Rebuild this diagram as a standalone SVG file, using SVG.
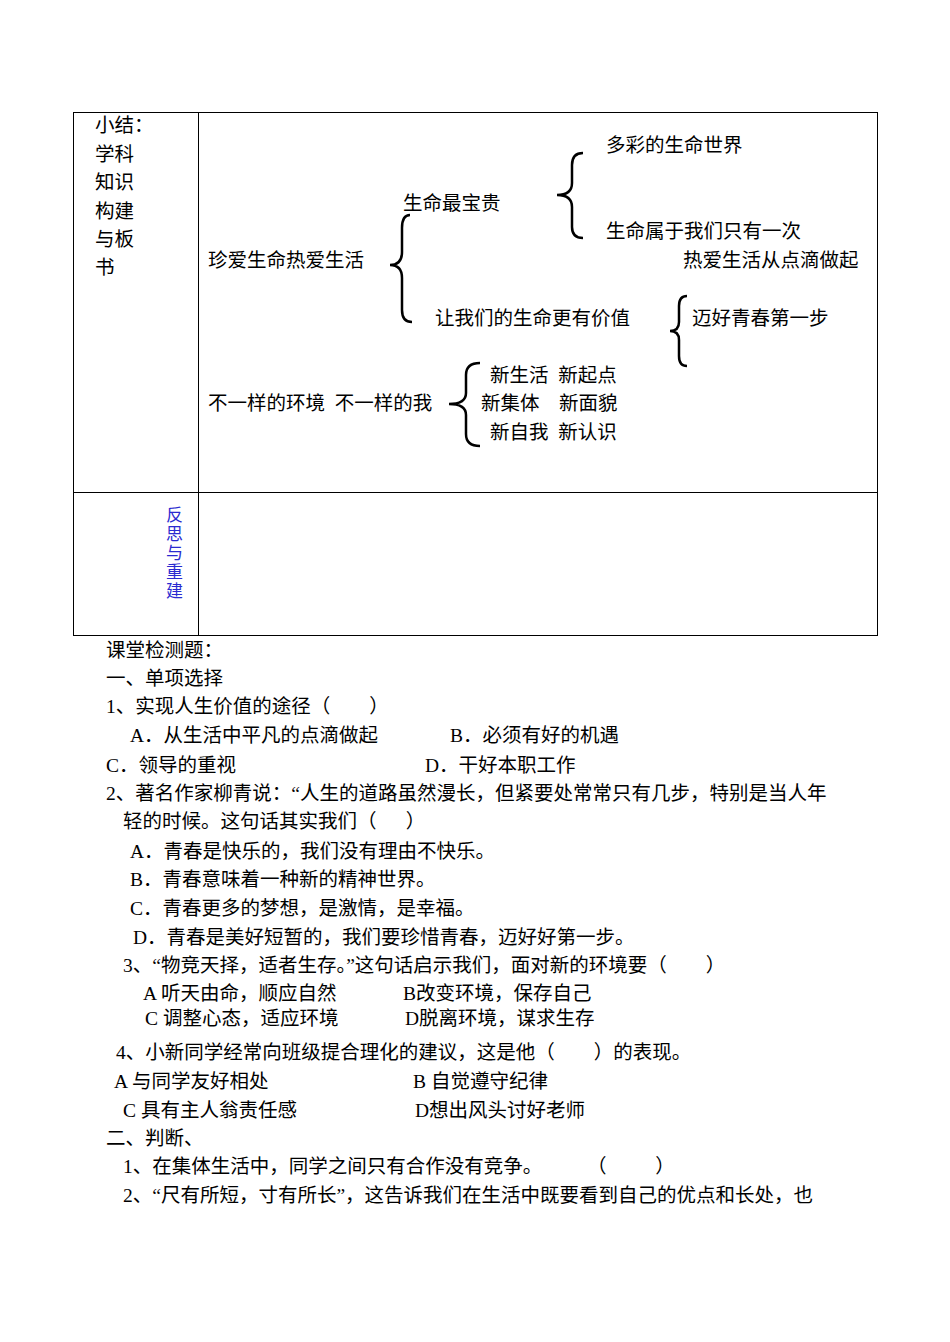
<svg xmlns="http://www.w3.org/2000/svg" width="950" height="1342" viewBox="0 0 950 1342">
<style>
text{font-family:"Liberation Serif","Noto Sans CJK SC",serif;font-size:19.5px;fill:#000;white-space:pre}
.b{fill:#2a2ad0;font-size:17px}
.br{fill:none;stroke:#000;stroke-width:2.5}
.ln{stroke:#000;stroke-width:1}
</style>
<rect width="950" height="1342" fill="#fff"/>
<g id="table">
<rect x="73.5" y="112.5" width="804" height="523" fill="none" class="ln"/>
<line x1="198.5" y1="112" x2="198.5" y2="636" class="ln"/>
<line x1="73" y1="492.5" x2="878" y2="492.5" class="ln"/>
<text x="95" y="132">小结：</text>
<text x="95" y="161">学科</text>
<text x="95" y="189">知识</text>
<text x="95" y="218">构建</text>
<text x="95" y="246">与板</text>
<text x="95" y="274">书</text>
<text class="b" x="166" y="521">反</text>
<text class="b" x="166" y="540">思</text>
<text class="b" x="166" y="559">与</text>
<text class="b" x="166" y="578">重</text>
<text class="b" x="166" y="597">建</text>
</g>
<g id="connectors">
<path class="br" d="M410,215 Q402,215 402,228 L402,252 Q402,265 390,265 Q402,265 402,278 L402,310 Q402,322 412,322"/>
<path class="br" d="M583,153 Q572,153 572,165 L572,183 Q572,195 557,195 Q572,195 572,207 L572,227 Q572,238 583,238"/>
<path class="br" d="M687,296 Q679,296 679,306 L679,322 Q679,331 670,331 Q679,331 679,340 L679,356 Q679,366 687,366"/>
<path class="br" d="M480,363 Q466,363 466,375 L466,393 Q466,404 449,404 Q466,404 466,415 L466,434 Q466,446 480,446"/>
</g>
<g id="nodes">
<text x="606" y="152">多彩的生命世界</text>
<text x="403" y="210">生命最宝贵</text>
<text x="606" y="238">生命属于我们只有一次</text>
<text x="683" y="267">热爱生活从点滴做起</text>
<text x="208" y="267">珍爱生命热爱生活</text>
<text x="435" y="325">让我们的生命更有价值</text>
<text x="692" y="325">迈好青春第一步</text>
<text x="490" y="382">新生活&#160;&#160;新起点</text>
<text x="481" y="410">新集体&#160;&#160;&#160;&#160;新面貌</text>
<text x="208" y="410">不一样的环境&#160;&#160;不一样的我</text>
<text x="490" y="439">新自我&#160;&#160;新认识</text>
</g>
<g id="questions">
<text x="106" y="657">课堂检测题：</text>
<text x="106" y="685">一、单项选择</text>
<text x="106" y="713">1、实现人生价值的途径（&#160;&#160;&#160;&#160;&#160;&#160;&#160;&#160;）</text>
<text x="130" y="742">A．从生活中平凡的点滴做起</text>
<text x="450" y="742">B．必须有好的机遇</text>
<text x="106" y="772">C．领导的重视</text>
<text x="425" y="772">D．干好本职工作</text>
<text x="106" y="800">2、著名作家柳青说：“人生的道路虽然漫长，但紧要处常常只有几步，特别是当人年</text>
<text x="123" y="828">轻的时候。这句话其实我们（&#160;&#160;&#160;&#160;&#160;&#160;）</text>
<text x="130" y="858">A．青春是快乐的，我们没有理由不快乐。</text>
<text x="130" y="886">B．青春意味着一种新的精神世界。</text>
<text x="130" y="915">C．青春更多的梦想，是激情，是幸福。</text>
<text x="133" y="944">D．青春是美好短暂的，我们要珍惜青春，迈好好第一步。</text>
<text x="123" y="972">3、“物竞天择，适者生存。”这句话启示我们，面对新的环境要（&#160;&#160;&#160;&#160;&#160;&#160;&#160;&#160;）</text>
<text x="143" y="1000">A 听天由命，顺应自然</text>
<text x="403" y="1000">B改变环境，保存自己</text>
<text x="145" y="1025">C 调整心态，适应环境</text>
<text x="405" y="1025">D脱离环境，谋求生存</text>
<text x="116" y="1059">4、小新同学经常向班级提合理化的建议，这是他（&#160;&#160;&#160;&#160;&#160;&#160;&#160;&#160;）的表现。</text>
<text x="114" y="1088">A 与同学友好相处</text>
<text x="413" y="1088">B 自觉遵守纪律</text>
<text x="123" y="1117">C 具有主人翁责任感</text>
<text x="415" y="1117">D想出风头讨好老师</text>
<text x="106" y="1145">二、判断、</text>
<text x="123" y="1173">1、在集体生活中，同学之间只有合作没有竞争。</text>
<text x="587" y="1173">（&#160;&#160;&#160;&#160;&#160;&#160;&#160;&#160;&#160;&#160;）</text>
<text x="123" y="1202">2、“尺有所短，寸有所长”，这告诉我们在生活中既要看到自己的优点和长处，也</text>
</g>
</svg>
